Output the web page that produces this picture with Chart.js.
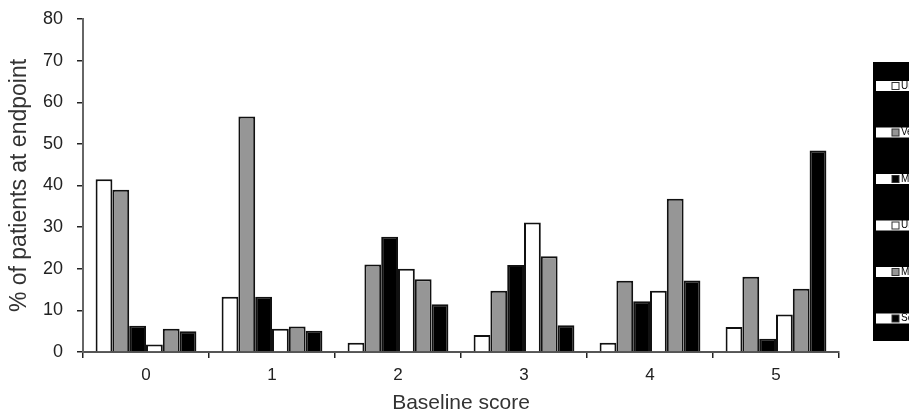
<!DOCTYPE html>
<html>
<head>
<meta charset="utf-8">
<script src="https://cdn.jsdelivr.net/npm/chart.js@4/dist/chart.umd.min.js"></script>
<style>
  html, body { margin:0; padding:0; background:#fff; }
  #wrap { width:909px; height:419px; }
</style>
</head>
<body>
<div id="wrap"><canvas id="c" width="909" height="419"></canvas></div>
<script>
/* Baseline score vs % of patients at endpoint — grouped bars */
const categories = ['0', '1', '2', '3', '4', '5'];
const yTicks     = [0, 10, 20, 30, 40, 50, 60, 70, 80];

// one array per series (legend text is cut off in the original)
const s1 = [41.5, 13.3,  2.2,  4.1,  2.2,  6.0];
const s2 = [39.0, 56.6, 21.0, 14.7, 17.1, 18.1];
const s3 = [ 6.3, 13.3, 27.7, 20.9, 12.2,  3.2];
const s4 = [ 1.8,  5.6, 20.0, 31.1, 14.7,  9.0];
const s5 = [ 5.6,  6.1, 17.5, 23.0, 36.8, 15.2];
const s6 = [ 5.0,  5.1, 11.5,  6.4, 17.2, 48.4];

const seriesLabels = ['Unchanged', 'Very mild', 'Mild', 'Unchanged', 'Moderate', 'Severe'];
const seriesFill   = ['#ffffff', '#969696', '#000000', '#ffffff', '#969696', '#000000'];
const seriesData   = [s1, s2, s3, s4, s5, s6];

const FONT = "'Liberation Sans', Arial, sans-serif";

// black legend box, cut off at the right edge like the source
const boxLegend = {
  id: 'boxLegend',
  afterDraw(chart) {
    const { ctx, chartArea } = chart;
    const x0 = chartArea.right + 34, top = 62, bottom = 341;
    ctx.save();
    ctx.fillStyle = '#000';
    ctx.fillRect(x0, top, chart.width - x0, bottom - top);
    const step = (bottom - top) / seriesLabels.length;
    seriesLabels.forEach((lab, i) => {
      const cy = top + 24 + i * step;
      ctx.fillStyle = '#fff';
      ctx.fillRect(x0 + 3, cy - 5, chart.width - x0, 10);
      ctx.fillStyle = seriesFill[i];
      ctx.strokeStyle = '#333';
      ctx.lineWidth = 1;
      ctx.fillRect(x0 + 19, cy - 3.5, 7, 7);
      ctx.strokeRect(x0 + 19, cy - 3.5, 7, 7);
      ctx.fillStyle = '#000';
      ctx.font = '10px ' + FONT;
      ctx.textBaseline = 'middle';
      ctx.fillText(lab, x0 + 28, cy);
    });
    ctx.restore();
  }
};

new Chart(document.getElementById('c'), {
  type: 'bar',
  data: {
    labels: categories,
    datasets: seriesData.map((d, i) => ({
      label: seriesLabels[i], data: d,
      backgroundColor: seriesFill[i], borderColor: '#111', borderWidth: 2,
      categoryPercentage: 0.8, barPercentage: 1.0
    }))
  },
  options: {
    responsive: false, animation: false,
    layout: { padding: { top: 19, right: 70, left: 0, bottom: 0 } },
    plugins: { legend: { display: false }, tooltip: { enabled: false } },
    scales: {
      x: {
        grid: { display: true, drawOnChartArea: false, drawTicks: true, tickLength: 6, color: '#222', lineWidth: 1.5, offset: true },
        border: { color: '#555', width: 2 },
        ticks: { color: '#222', font: { family: FONT, size: 17 }, padding: 7 },
        title: { display: true, text: 'Baseline score', color: '#333', font: { family: FONT, size: 21 }, padding: { top: 2, bottom: 3 } },
        afterFit: s => { s.height = 67; s.paddingLeft = 0; s.paddingRight = 0; }
      },
      y: {
        min: 0, max: 80,
        afterBuildTicks: s => { s.ticks = yTicks.map(v => ({ value: v })); },
        grid: { display: true, drawOnChartArea: false, drawTicks: true, tickLength: 6, color: '#222', lineWidth: 1.5 },
        border: { color: '#666', width: 2 },
        ticks: { color: '#222', font: { family: FONT, size: 18 }, padding: 14 },
        title: { display: true, text: '% of patients at endpoint', color: '#333', font: { family: FONT, size: 23 }, padding: { top: 6, bottom: 0 } },
        afterFit: s => { s.width = 83; s.paddingTop = 0; s.paddingBottom = 0; }
      }
    }
  },
  plugins: [boxLegend]
});
</script>
</body>
</html>
